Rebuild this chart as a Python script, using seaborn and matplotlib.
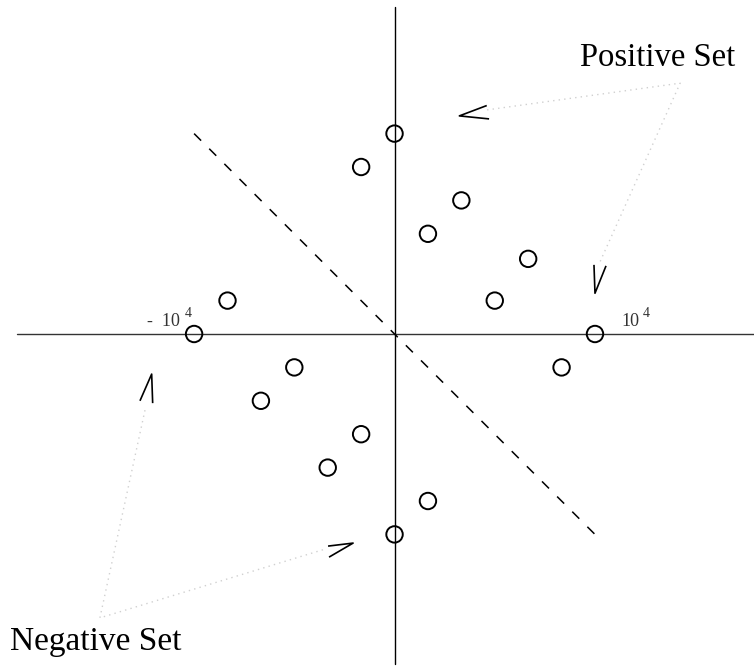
import matplotlib
matplotlib.use("Agg")
import matplotlib.pyplot as plt
import seaborn as sns
import pandas as pd

# ---- data (units of 10^4 / 6) ----
pos_x = [0, -1, 2, 1, 4, 3, 6, 5]
pos_y = [6, 5, 4, 3, 2.25, 1, 0, -1]
neg_x = [-5, -6, -3, -4, -1, -2, 1, 0]
neg_y = [1, 0, -1, -2, -3, -4, -5, -6]
sep_x = [-6, 6]
sep_y = [6, -6]
tick_labels = ["-  10", "10"]
set_labels = ["Positive Set", "Negative Set"]

sns.set_theme(style="white")
plt.rcParams['font.family'] = ['Liberation Serif', 'DejaVu Serif']

fig = plt.figure(figsize=(7.54, 6.66), dpi=100)
ax = fig.add_axes([0, 0, 1, 1])
ax.set_xlim(-11.81, 10.76)
ax.set_ylim(-9.94, 10.0)
ax.axis("off")

# axes lines
ax.plot([-11.3, 10.76], [0, 0], color="#333333", lw=1.0, zorder=1)
ax.plot([0, 0], [9.79, -9.88], color="black", lw=1.0, zorder=1)

# separating dashed line
sns.lineplot(x=sep_x, y=sep_y, ax=ax, color="black", lw=1.1,
             linestyle=(0, (6.5, 7.5)), zorder=2)

pts = pd.DataFrame({"x": pos_x + neg_x, "y": pos_y + neg_y})
sns.scatterplot(data=pts, x="x", y="y", ax=ax, marker="o", s=140,
                facecolor="none", edgecolor="black", linewidth=1.4, zorder=3)

# tick labels
ax.text(-7.42, 0.25, tick_labels[0], fontsize=13, color="#333333", ha="left", va="baseline")
ax.text(-6.27, 0.51, "4", fontsize=10, color="#333333", ha="left", va="baseline")
ax.text(6.80, 0.25, tick_labels[1], fontsize=13, color="#333333", ha="left", va="baseline")
ax.text(7.44, 0.51, "4", fontsize=10, color="#333333", ha="left", va="baseline")

# set labels
ax.text(7.89, 8.02, set_labels[0], fontsize=23.5, color="black", ha="center", va="baseline")
ax.text(-8.94, -9.46, set_labels[1], fontsize=24, color="black", ha="center", va="baseline")

# dotted guide lines
dot_kw = dict(color="#d0d0d0", lw=1.0, linestyle=(0, (1, 3)), zorder=0)
ax.plot([2.77, 8.55, 6.15], [6.71, 7.51, 2.16], **dot_kw)
ax.plot([-7.47, -8.82, -2.08], [-2.28, -8.50, -6.44], **dot_kw)

# chevron arrow heads
chev_kw = dict(color="black", lw=1.2, zorder=2, solid_capstyle="butt")
ax.plot([2.76, 1.94, 2.83], [6.84, 6.53, 6.44], **chev_kw)
ax.plot([5.97, 6.0, 6.33], [2.07, 1.22, 2.04], **chev_kw)
ax.plot([-7.62, -7.27, -7.24], [-2.0, -1.20, -2.07], **chev_kw)
ax.plot([-1.99, -1.24, -1.96], [-6.35, -6.26, -6.68], **chev_kw)

fig.savefig("out.png", dpi=100)
